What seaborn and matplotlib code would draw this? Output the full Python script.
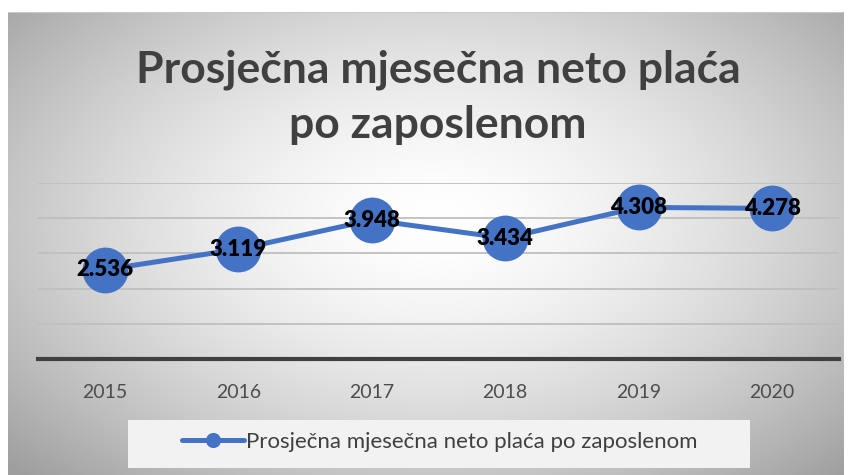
import numpy as np
import pandas as pd
import matplotlib.pyplot as plt
from matplotlib.patches import Rectangle
import seaborn as sns

years = ["2015", "2016", "2017", "2018", "2019", "2020"]
placa = [2536, 3119, 3948, 3434, 4308, 4278]
naslov = "Prosječna mjesečna neto plaća\npo zaposlenom"
serija = "Prosječna mjesečna neto plaća po zaposlenom"

sns.set_theme(style="white")
plt.rcParams["font.family"] = ["Lato", "DejaVu Sans"]

W, H = 855, 475
fig = plt.figure(figsize=(W / 100, H / 100), dpi=100)
fig.patch.set_facecolor("white")

# radial gradient background (white centre, grey edges)
bg = fig.add_axes([8 / W, 0, (843 - 8) / W, (475 - 12) / H])
gx, gy = np.meshgrid(np.linspace(-1, 1, 400), np.linspace(-1, 1, 250))
r = np.sqrt(((gx - 0.02) / 1.0) ** 2 + ((gy + 0.1) / 1.1) ** 2)
shade = 1 - 0.22 * np.clip(r, 0, 1.4) ** 1.6
bg.imshow(np.dstack([shade] * 3), aspect="auto", extent=[0, 1, 0, 1])
bg.set_axis_off()
bg.add_line(plt.Line2D([0, 1], [1, 1], color="#c8c8c8", lw=1.5, transform=bg.transAxes))

ax = fig.add_axes([38 / W, (475 - 359) / H, 801 / W, (359 - 183) / H])
ax.patch.set_alpha(0)
df = pd.DataFrame({"year": years, "placa": placa})
sns.lineplot(data=df, x="year", y="placa", ax=ax, color="#4472C4", lw=3.6,
             marker="o", markersize=33, markeredgewidth=0, clip_on=False,
             label=serija, legend=False, zorder=5)
ax.set_ylim(0, 5000)
ax.set_xlim(-0.5, 5.5)
ax.set_yticks(range(0, 5001, 1000))
ax.yaxis.grid(True, color="#bfbfbf", lw=1.3)
ax.set_axisbelow(True)
for s in ["top", "right", "left"]:
    ax.spines[s].set_visible(False)
ax.spines["bottom"].set_color("#404040")
ax.spines["bottom"].set_linewidth(3)
ax.spines["bottom"].set_zorder(6)
ax.tick_params(axis="y", left=False, labelleft=False)
ax.tick_params(axis="x", bottom=False, labelsize=14, labelcolor="#4d4d4d", pad=12)
ax.set_xlabel("")
ax.set_ylabel("")

for i, v in enumerate(placa):
    ax.text(i, v, f"{v:,}".replace(",", "."), ha="center", va="center",
            fontsize=16, fontweight="heavy", color="black", zorder=7)

fig.text(438 / W, 1 - 97 / H, naslov, ha="center", va="center", fontsize=32,
         fontweight="bold", color="#404040", linespacing=1.45)

# legend box
fig.add_artist(Rectangle((128 / W, 1 - 468 / H), (750 - 128) / W, (468 - 420) / H,
                         transform=fig.transFigure, facecolor="#f2f2f2", edgecolor="none"))
h, l = ax.get_legend_handles_labels()
leg = fig.legend(h, l, loc="center", bbox_to_anchor=(440 / W, 1 - 442 / H), frameon=False,
                 fontsize=16, handlelength=2.8, handletextpad=0.1, markerscale=0.33)
for t in leg.get_texts():
    t.set_color("#404040")

fig.savefig("out.png", dpi=100)
